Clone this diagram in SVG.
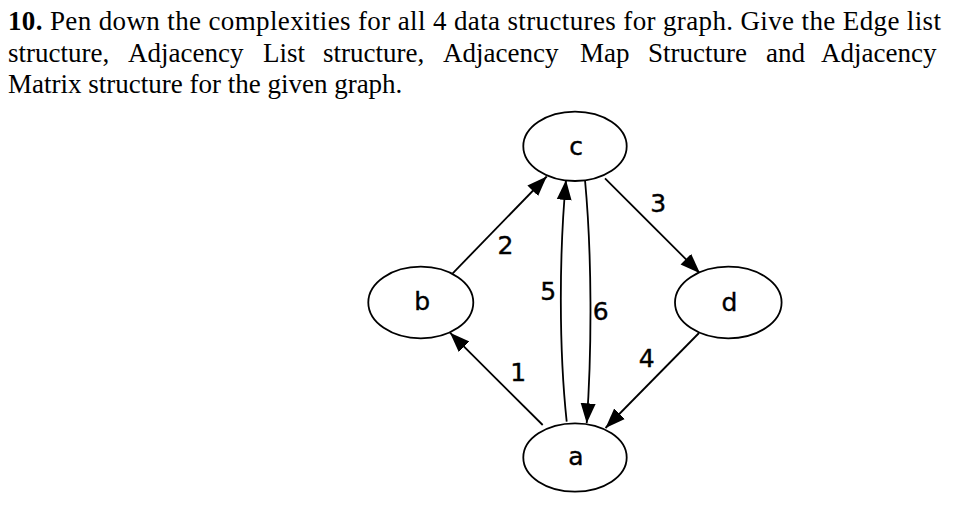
<svg xmlns="http://www.w3.org/2000/svg" width="976" height="522" viewBox="0 0 976 522">
<style>
.q{font-family:"Liberation Serif","Times New Roman",serif;font-size:27px;fill:#000}
.n{fill:#fff;stroke:#000;stroke-width:1.8}
.nl,.el{font-family:"DejaVu Sans",sans-serif;font-size:25px;text-anchor:middle;fill:#000;stroke:#000;stroke-width:0.4}
.e{fill:none;stroke:#000;stroke-width:1.8;marker-end:url(#ah)}
</style>
<defs>
<marker id="ah" markerUnits="userSpaceOnUse" markerWidth="22" markerHeight="18" viewBox="0 -9 22 18" refX="20" refY="0" orient="auto">
<path d="M0,-7.5 L20,0 L0,7.5 z" fill="#000"/>
</marker>
</defs>
<rect width="976" height="522" fill="#fff"/>
<g id="question">
<text class="q" x="8" y="30" textLength="933" lengthAdjust="spacing"><tspan font-weight="bold">10.</tspan> Pen down the complexities for all 4 data structures for graph. Give the Edge list</text>
<text class="q" y="62"><tspan x="8">structure,</tspan><tspan x="128">Adjacency</tspan><tspan x="263">List</tspan><tspan x="323">structure,</tspan><tspan x="443">Adjacency</tspan><tspan x="580">Map</tspan><tspan x="648">Structure</tspan><tspan x="766">and</tspan><tspan x="821">Adjacency</tspan></text>
<text class="q" x="8" y="93">Matrix structure for the given graph.</text>
</g>
<g id="connectors">
<path id="e1" class="e" d="M542.7,425 L450,332.7"/>
<path id="e2" class="e" d="M452.7,273.3 L546.7,176.5"/>
<path id="e3" class="e" d="M605,178.3 L700,273.3"/>
<path id="e4" class="e" d="M699,333 L605.5,428"/>
<path id="e5" class="e" d="M566.7,421.7 C559,350 559,255 566,180"/>
<path id="e6" class="e" d="M585,180 C592,255 592,350 586.7,423.3"/>
<text class="el" x="518.3" y="381">1</text>
<text class="el" x="505.5" y="253.5">2</text>
<text class="el" x="658.3" y="212">3</text>
<text class="el" x="646.7" y="366.7">4</text>
<text class="el" x="548.3" y="300">5</text>
<text class="el" x="600.8" y="320">6</text>
</g>
<g id="node-c"><ellipse class="n" cx="575" cy="146.3" rx="51.7" ry="34.7"/><text class="nl" x="576" y="155">c</text></g>
<g id="node-b"><ellipse class="n" cx="420.8" cy="302.5" rx="52.5" ry="35.8"/><text class="nl" x="422.3" y="310">b</text></g>
<g id="node-d"><ellipse class="n" cx="728.3" cy="302.5" rx="53.3" ry="35.8"/><text class="nl" x="729.5" y="311">d</text></g>
<g id="node-a"><ellipse class="n" cx="575" cy="457.5" rx="51.7" ry="34.2"/><text class="nl" x="576" y="465">a</text></g>
</svg>
